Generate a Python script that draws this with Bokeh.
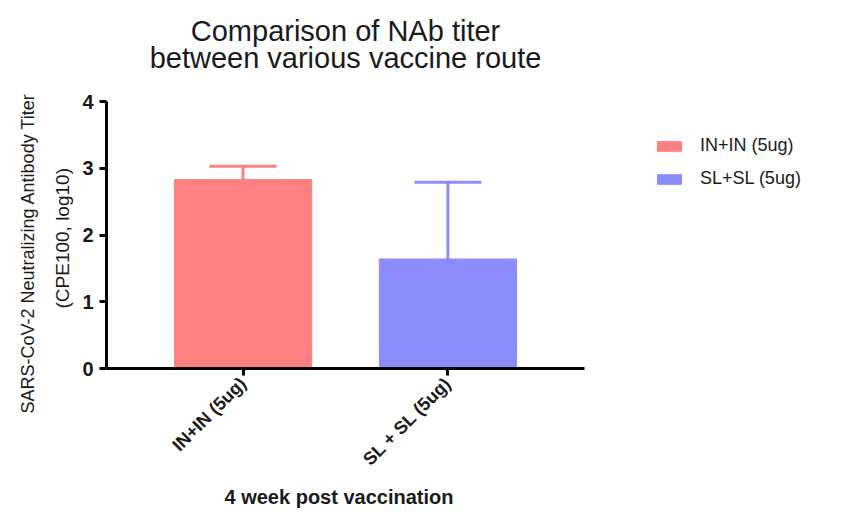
import math
from bokeh.plotting import figure
from bokeh.models import (ColumnDataSource, Range1d, FixedTicker, Whisker, TeeHead,
                          Legend, LegendItem, Title, Label)
from bokeh.embed import file_html
from bokeh.resources import INLINE

categories = ["IN+IN (5ug)", "SL + SL (5ug)"]
legend_labels = ["IN+IN (5ug)", "SL+SL (5ug)"]
means = [2.83, 1.64]
upper_sd = [3.03, 2.79]
colors = ["#FF8080", "#8C8CFF"]
y_ticks = [0, 1, 2, 3, 4]
title_lines = ["Comparison of NAb titer", "between various vaccine route"]
ylabel_lines = ["SARS-CoV-2 Neutralizing Antibody Titer", "(CPE100, log10)"]
xlabel = "4 week post vaccination"

xs = [i + 1 for i in range(len(categories))]
src = ColumnDataSource(dict(x=xs, top=means, upper=upper_sd, color=colors,
                            label=legend_labels))

FONT = "Liberation Sans"
DARK = "#1a1a1a"

# layout geometry (pixels in the canvas)
W, H = 830, 511
L, B = 106, 368              # frame left / bottom
AX_RIGHT, AX_TOP = 584, 101  # where the drawn axes end
x0, x1 = xs[0] - 2/3, xs[-1] + 2/3
y0, y1 = y_ticks[0], y_ticks[-1]
kx = (AX_RIGHT - L) / (x1 - x0)
ky = (B - AX_TOP) / (y1 - y0)
x_end = x0 + (W - L) / kx
y_end = y1 + AX_TOP / ky

p = figure(width=W, height=H, output_backend="svg", toolbar_location=None,
           x_range=Range1d(x0, x_end), y_range=Range1d(y0, y_end),
           min_border_left=L, min_border_right=0, min_border_top=0,
           min_border_bottom=H - B)
p.outline_line_color = None
p.grid.visible = False
p.title.visible = False

r = p.vbar(x="x", top="top", bottom=0, width=0.67, color="color", source=src)

w = Whisker(base="x", lower="top", upper="upper", source=src, dimension="height",
            line_color="color", line_width=3,
            upper_head=TeeHead(size=67, line_width=3, line_color="color"),
            lower_head=None)
p.add_layout(w)

for ax in (p.xaxis[0], p.yaxis[0]):
    ax.axis_line_width = 3
    ax.axis_line_color = "black"
    ax.major_tick_line_width = 3
    ax.major_tick_line_color = "black"
    ax.major_tick_out = 7
    ax.major_tick_in = 0
    ax.minor_tick_line_color = None
    ax.major_label_text_font = FONT
    ax.major_label_text_font_style = "bold"
    ax.major_label_text_color = DARK

p.yaxis.bounds = (y0, y1)
p.yaxis.ticker = FixedTicker(ticks=y_ticks)
p.yaxis.major_label_text_font_size = "20px"
p.yaxis.major_label_standoff = 6

# y label: two lines as left-side titles
ty2 = Title(text=ylabel_lines[1], align="left", offset=60, text_font=FONT,
            text_font_size="19px", text_font_style="normal", text_color=DARK, standoff=14)
ty1 = Title(text=ylabel_lines[0], align="left", offset=-45, text_font=FONT,
            text_font_size="18px", text_font_style="normal", text_color=DARK, standoff=10)
p.add_layout(ty2, "left")
p.add_layout(ty1, "left")

p.xaxis.bounds = (x0, x1)
p.xaxis.ticker = FixedTicker(ticks=xs)
p.xaxis.major_label_overrides = {x: c for x, c in zip(xs, categories)}
p.xaxis.major_label_orientation = math.pi / 4
p.xaxis.major_label_text_font_size = "18px"

tx = Title(text=xlabel, align="left", offset=118, text_font=FONT, text_font_size="20px",
           text_font_style="bold", text_color=DARK, standoff=8)
p.add_layout(tx, "below")

# title: two centred lines inside the (extended) frame
xc = (xs[0] + xs[-1]) / 2
for line, base_px in zip(title_lines, [30, 57]):
    p.add_layout(Label(x=xc, y=y1 + (AX_TOP - base_px) / ky, text=line,
                       text_align="center", text_baseline="alphabetic",
                       text_font=FONT, text_font_size="29px", text_color=DARK))

items = [LegendItem(label=legend_labels[i], renderers=[r], index=i) for i in range(len(xs))]
legend = Legend(items=items, location=(548, 179), orientation="vertical")
legend.border_line_color = None
legend.background_fill_alpha = 0
legend.padding = 0
legend.margin = 0
legend.glyph_width = 30
legend.glyph_height = 12
legend.label_standoff = 16
legend.spacing = 12
legend.label_text_font = FONT
legend.label_text_font_size = "18px"
legend.label_text_color = DARK
p.add_layout(legend, "center")

open("out.html", "w").write(file_html(p, INLINE))
